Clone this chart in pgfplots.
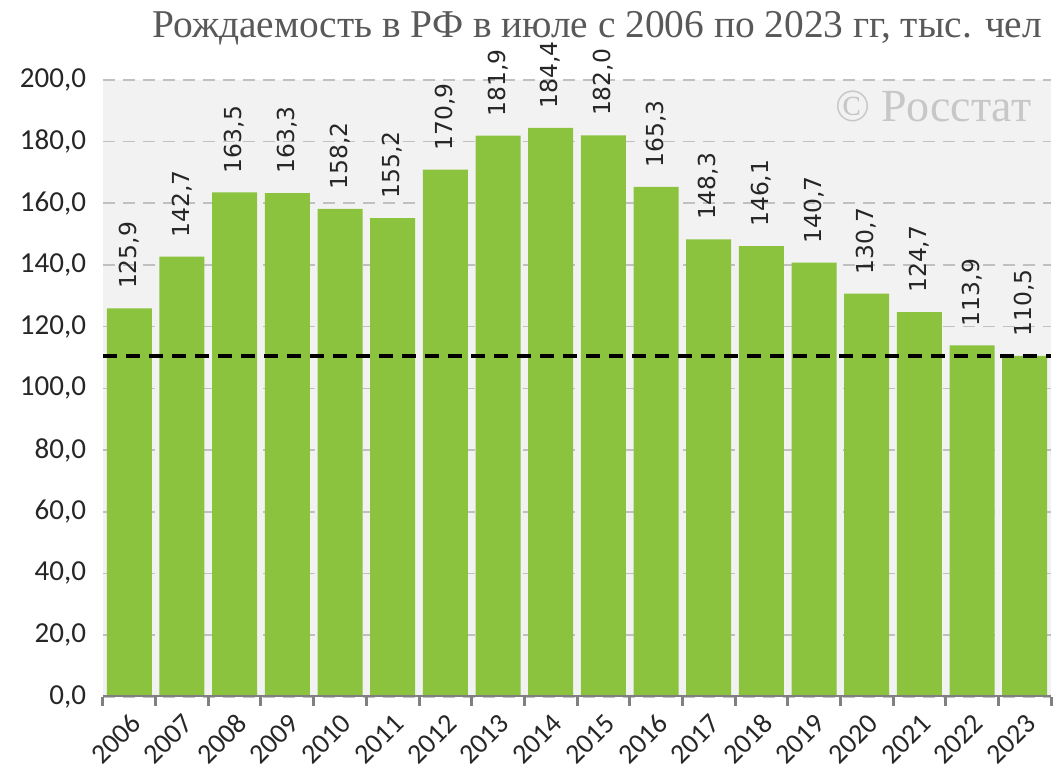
\documentclass[border=0pt]{standalone}
\usepackage{fontspec}
\setmainfont{Carlito}
\newfontfamily\serifru{Liberation Serif}
\newfontfamily\dejavu{DejaVu Sans}
\usepackage{pgfplots}
\usepackage{pgfplotstable}
\pgfplotsset{compat=1.18}
\pgfplotstableread{
x year y
0 2006 125.9
1 2007 142.7
2 2008 163.5
3 2009 163.3
4 2010 158.2
5 2011 155.2
6 2012 170.9
7 2013 181.9
8 2014 184.4
9 2015 182.0
10 2016 165.3
11 2017 148.3
12 2018 146.1
13 2019 140.7
14 2020 130.7
15 2021 124.7
16 2022 113.9
17 2023 110.5
}\datatable
\definecolor{bargreen}{RGB}{139,195,63}
\definecolor{gridgray}{RGB}{192,192,192}
\definecolor{bggray}{RGB}{242,242,242}
\definecolor{axisgray}{RGB}{128,128,128}
\begin{document}
\begin{tikzpicture}
\begin{axis}[
  scale only axis, width=474pt, height=308.5pt,
  xmin=-0.5, xmax=17.5, ymin=0, ymax=200,
  axis line style={draw=none},
  axis background/.style={fill=bggray},
  /pgf/number format/assume math mode=true,
  ytick={0,20,...,200},
  xtick={0,...,17},
  xticklabels={2006,2007,2008,2009,2010,2011,2012,2013,2014,2015,2016,2017,2018,2019,2020,2021,2022,2023},
  minor xtick={-0.5,0.5,...,17.5},
  major tick length=0pt,
  minor tick length=4.5pt,
  tick align=outside,
  tick pos=left,
  minor tick style={axisgray, line width=1.5pt},
  ymajorgrids,
  major grid style={gridgray, line width=0.8pt, dash pattern=on 6pt off 4pt},
  y tick label style={/pgf/number format/fixed, /pgf/number format/fixed zerofill, /pgf/number format/precision=1, /pgf/number format/use comma, font=\fontsize{14.5}{15}\selectfont, text=black!85},
  yticklabel shift=5pt,
  x tick label style={rotate=45, anchor=north east, inner sep=1pt, font=\fontsize{14}{15}\selectfont, text=black!85},
  xticklabel shift=6pt,
]
\addplot[ybar, bar width=22.5pt, fill=bargreen, draw=none,
  nodes near coords={\pgfmathprintnumber[fixed,fixed zerofill,precision=1,use comma]{\pgfplotspointmeta}},
  every node near coord/.append style={rotate=90, anchor=west, font=\dejavu\fontsize{11.7}{12}\selectfont, text=black!85, inner xsep=9.5pt, inner ysep=0pt}
] table[x=x, y=y] {\datatable};
\addplot[black, line width=1.8pt, dash pattern=on 7pt off 4.5pt] coordinates {(-0.5,110.5) (17.5,110.5)};
\draw[axisgray, line width=2.2pt] (rel axis cs:0,0) -- (rel axis cs:1,0);
\coordinate (sw) at (rel axis cs:0,0);
\end{axis}
\node[anchor=base west, inner sep=0pt, font=\serifru\fontsize{19.7}{21}\selectfont, text=black!65] at ([shift={(24.5pt,329.4pt)}]sw) {Рождаемость в РФ в июле с 2006 по 2023 гг, тыс. чел};
\node[anchor=base west, inner sep=0pt, font=\serifru\fontsize{23}{24}\selectfont, text=black!22] at ([shift={(366pt,287.4pt)}]sw) {© Росстат};
\pgfresetboundingbox
\path[use as bounding box] ([shift={(-51.5pt,-37.6pt)}]sw) rectangle ([shift={(479pt,348.4pt)}]sw);
\end{tikzpicture}
\end{document}
